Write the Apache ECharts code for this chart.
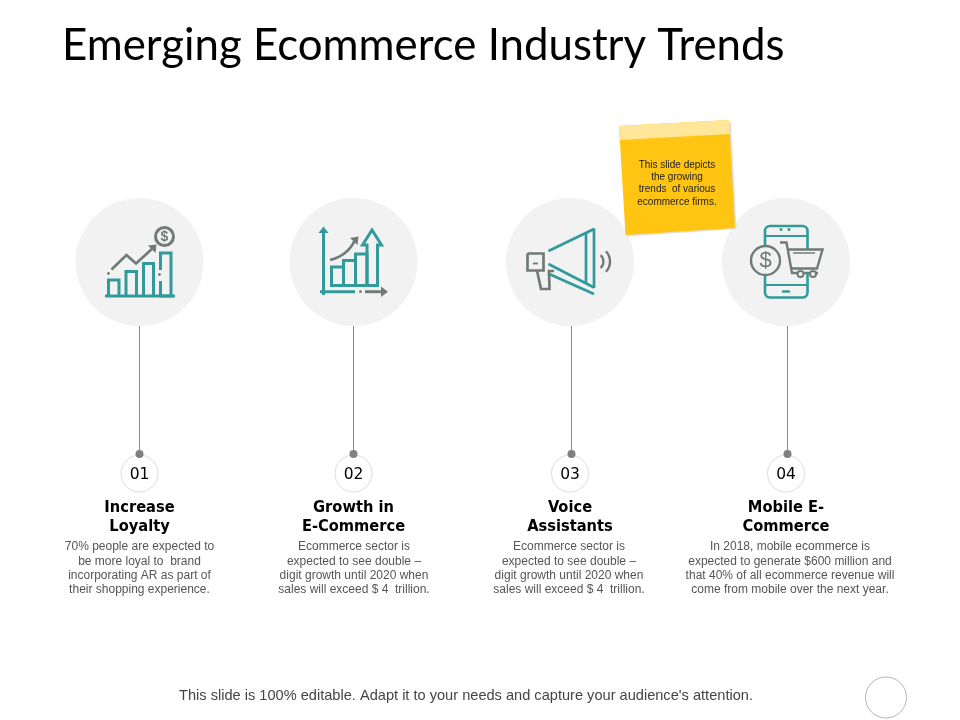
<!DOCTYPE html>
<html>
<head>
<meta charset="utf-8">
<style>html,body{margin:0;padding:0;background:#fff}#c{width:960px;height:720px}</style>
<script src="https://cdn.jsdelivr.net/npm/echarts@6/dist/echarts.min.js"></script>
</head>
<body>
<div id="c"></div>
<script>
var slideTitle = 'Emerging Ecommerce Industry Trends';
var stepNumbers = ['01', '02', '03', '04'];
var stepHeadings = ['Increase\nLoyalty', 'Growth in\nE-Commerce', 'Voice\nAssistants', 'Mobile E-\nCommerce'];
var stepBodies = [
  '70% people are expected to\nbe more loyal to  brand\nincorporating AR as part of\ntheir shopping experience.',
  'Ecommerce sector is\nexpected to see double \u2013\ndigit growth until 2020 when\nsales will exceed $ 4  trillion.',
  'Ecommerce sector is\nexpected to see double \u2013\ndigit growth until 2020 when\nsales will exceed $ 4  trillion.',
  'In 2018, mobile ecommerce is\nexpected to generate $600 million and\nthat 40% of all ecommerce revenue will\ncome from mobile over the next year.'
];
var noteText = 'This slide depicts\nthe growing\ntrends  of various\necommerce firms.';
var footerText = "This slide is 100% editable. Adapt it to your needs and capture your audience's attention.";
var stepCenters = [139.5, 353.5, 570, 786];
var stemCenters = [139.5, 353.5, 571.5, 787.5];
var bodyCenters = [139.5, 354, 569, 790];

var TEAL = '#329a9a', GRAY = '#6f7b76', HUB = '#f2f2f2';
var chart = echarts.init(document.getElementById('c'), null, {renderer: 'canvas'});

function column(y, xs) { return (xs || stepCenters).map(function (x) { return [x, y]; }); }
function stem(i) { return {type: 'line', silent: true, symbol: 'none', z: 3, animation: false,
  lineStyle: {color: '#8a8a8a', width: 1}, data: [[stemCenters[i], 326], [stemCenters[i], 454]]}; }

function poly(points, color, width, z) {
  return {type: 'polyline', z: z || 20, shape: {points: points}, style: {stroke: color, lineWidth: width, fill: null, lineJoin: 'miter'}};
}
function line(a, b, c, d, color, width, z) { return poly([[a, b], [c, d]], color, width, z); }
function rect(x, y, w, h, color, width, z) {
  return {type: 'rect', z: z || 20, shape: {x: x, y: y, width: w, height: h}, style: {stroke: color, lineWidth: width, fill: null}};
}
function dot(x, y, r, color, z) {
  return {type: 'circle', z: z || 20, shape: {cx: x, cy: y, r: r}, style: {fill: color}};
}
function ring(x, y, r, color, width, fill, z) {
  return {type: 'circle', z: z || 20, shape: {cx: x, cy: y, r: r}, style: {stroke: color, lineWidth: width, fill: fill}};
}
function tri(points, color, z) {
  return {type: 'polygon', z: z || 20, shape: {points: points}, style: {fill: color}};
}
function glyph(x, y, text, size, color, z, weight) {
  return {type: 'text', z: z || 21, x: x, y: y, style: {text: text, fill: color, font: (weight || 'normal') + ' ' + size + 'px "Liberation Sans"', align: 'center', verticalAlign: 'middle'}};
}

var T = 3, G = 2.7;
var icon1 = [
  line(105, 296, 175, 296, TEAL, T),
  poly([[108.5, 296], [108.5, 280], [119, 280], [119, 296]], TEAL, T),
  poly([[126, 296], [126, 271.5], [136.5, 271.5], [136.5, 296]], TEAL, T),
  poly([[143.5, 296], [143.5, 263.5], [153.5, 263.5], [153.5, 296]], TEAL, T),
  poly([[160.5, 270], [160.5, 253], [171, 253], [171, 296], [160.5, 296], [160.5, 281]], TEAL, T),
  dot(159.5, 274.5, 1.4, GRAY),
  dot(108.5, 273.5, 1.4, GRAY),
  poly([[111.5, 269.5], [126.5, 255], [136, 263.5], [153, 248]], GRAY, G),
  tri([[148, 245.5], [156.5, 244.5], [155.5, 253]], GRAY),
  ring(164.5, 236.5, 9, GRAY, 3, 'none'),
  glyph(164.5, 237, '$', 14, GRAY, 21, 'bold')
];
var icon2 = [
  line(323.5, 231, 323.5, 295, TEAL, T),
  tri([[318.5, 233], [323.5, 226.5], [328.5, 233]], TEAL),
  line(320, 291.7, 355, 291.7, TEAL, T),
  dot(360.5, 291.7, 1.4, GRAY),
  line(365, 291.7, 383, 291.7, GRAY, T),
  tri([[381, 286.5], [388, 291.7], [381, 297]], GRAY),
  rect(331.5, 267, 12, 18.5, TEAL, T),
  rect(343.5, 260.5, 12, 25, TEAL, T),
  rect(355.5, 254, 11.5, 31.5, TEAL, T),
  poly([[367, 285.5], [377.5, 285.5], [377.5, 245], [381.5, 245], [372, 230], [362.5, 245], [367, 245], [367, 285.5]], TEAL, T),
  {type: 'bezierCurve', z: 20, shape: {x1: 330, y1: 260, cpx1: 342, cpy1: 257, x2: 355, y2: 240, cpx2: 350, cpy2: 251},
   style: {stroke: GRAY, lineWidth: G, fill: null}},
  tri([[350, 238], [358.5, 236.5], [357.5, 245]], GRAY)
];
var icon3 = [
  line(548.5, 251, 594, 229, TEAL, 2.7),
  line(594, 228.5, 594, 288, TEAL, 2.7),
  line(586, 233, 586, 283.5, TEAL, 2.7),
  line(548.5, 264, 594, 287.5, TEAL, 2.7),
  line(548, 273.5, 594, 294, TEAL, 2.7),
  poly([[527.5, 253.5], [543.5, 253.5], [543.5, 270.5], [527.5, 270.5], [527.5, 253.5]], GRAY, G),
  poly([[537, 270.5], [541, 289], [549.5, 289], [549, 271], [554, 271]], GRAY, G),
  line(533, 263.5, 538, 263.5, GRAY, 1.8),
  {type: 'arc', z: 20, shape: {cx: 595, cy: 261.5, r: 8.5, startAngle: -0.85, endAngle: 0.85}, style: {stroke: GRAY, lineWidth: 2.4, fill: null}},
  {type: 'arc', z: 20, shape: {cx: 595, cy: 261.5, r: 15, startAngle: -0.75, endAngle: 0.75}, style: {stroke: GRAY, lineWidth: 2.4, fill: null}}
];
var icon4 = [
  {type: 'rect', z: 20, shape: {x: 765, y: 226, width: 42.5, height: 71.5, r: 5}, style: {stroke: TEAL, lineWidth: 2.6, fill: null}},
  line(765, 236, 807.5, 236, TEAL, 2.2),
  line(765, 285, 807.5, 285, TEAL, 2.2),
  line(782, 291.5, 790, 291.5, TEAL, 2.4),
  dot(781, 229.5, 1.5, TEAL), dot(789, 229.5, 1.5, TEAL),
  tri([[788, 249], [823, 249], [817, 272], [793, 276]], HUB, 21),
  ring(765.5, 260.5, 14.5, GRAY, 2.4, HUB, 22),
  glyph(765.5, 261, '$', 22, GRAY, 23),
  poly([[780, 242.5], [786.5, 242.5], [792, 273], [818, 273]], GRAY, 2.4, 23),
  poly([[788.5, 249.5], [822.5, 249.5], [817, 268.5], [791.5, 268.5]], GRAY, 2.4, 23),
  line(793, 253, 815, 253, GRAY, 1.5, 23),
  ring(800.5, 274, 3, GRAY, 2, HUB, 24),
  ring(813, 274, 3, GRAY, 2, HUB, 24)
];

var note = [
  {type: 'polygon', z: 40, shape: {points: [[621, 128], [731, 122], [736.5, 229], [627, 236.5]]}, style: {fill: '#e4dfd2'}},
  {type: 'polygon', z: 41, shape: {points: [[619, 126], [729, 120], [735, 228], [625.5, 235]]}, style: {fill: '#ffc512'}},
  {type: 'polygon', z: 42, shape: {points: [[619, 126], [729, 120], [729.8, 134], [620, 140]]}, style: {fill: '#ffe699'}},
  {type: 'text', z: 43, x: 677, y: 183.5, style: {text: noteText, fill: '#222', font: '10px "Liberation Sans"', lineHeight: 12.3, align: 'center', verticalAlign: 'middle'}}
];

var option = {
  animation: false,
  backgroundColor: '#fff',
  title: {text: slideTitle, left: 57, top: 19, textStyle: {fontFamily: 'Lato', fontWeight: 'normal', fontSize: 43.8, color: '#000'}},
  grid: {left: 0, right: 0, top: 0, bottom: 0},
  xAxis: {type: 'value', min: 0, max: 960, show: false},
  yAxis: {type: 'value', min: 0, max: 720, inverse: true, show: false},
  series: [
    {type: 'scatter', name: 'hubs', silent: true, symbolSize: 128, z: 1, itemStyle: {color: HUB, opacity: 1}, data: column(262)}
  ].concat([0, 1, 2, 3].map(stem)).concat([
    {type: 'scatter', name: 'stem dots', silent: true, symbolSize: 8, z: 5, itemStyle: {color: '#808080', opacity: 1},
     data: column(454, stemCenters)},
    {type: 'scatter', name: 'badges', silent: true, symbolSize: 37, z: 4,
     itemStyle: {color: '#fff', borderColor: '#dcdcdc', borderWidth: 1, opacity: 1},
     label: {show: true, position: 'inside', color: '#000', fontFamily: 'DejaVu Sans', fontSize: 15.5, offset: [0, 1],
       formatter: function (p) { return stepNumbers[p.dataIndex]; }},
     data: column(473.5)},
    {type: 'scatter', name: 'headings', silent: true, symbolSize: 0, z: 6, itemStyle: {opacity: 1},
     label: {show: true, position: 'inside', color: '#000', fontFamily: 'DejaVu Sans Condensed', fontWeight: 'bold', fontSize: 16.3, lineHeight: 19, align: 'center',
       formatter: function (p) { return stepHeadings[p.dataIndex]; }},
     data: column(517.5)},
    {type: 'scatter', name: 'bodies', silent: true, symbolSize: 0, z: 6, itemStyle: {opacity: 1},
     label: {show: true, position: 'inside', color: '#555', fontFamily: 'Liberation Sans', fontSize: 12, lineHeight: 14.4, align: 'center',
       formatter: function (p) { return stepBodies[p.dataIndex]; }},
     data: column(568.5, bodyCenters)}
  ]),
  graphic: {elements: [].concat(icon1, icon2, icon3, icon4, note, [
    {type: 'text', z: 10, x: 466, y: 696, style: {text: footerText, fill: '#444', font: '14.6px "Liberation Sans"', align: 'center', verticalAlign: 'middle'}},
    {type: 'circle', z: 10, shape: {cx: 886, cy: 697.5, r: 20.5}, style: {stroke: '#b5b5b5', lineWidth: 1, fill: '#fff'}}
  ])}
};
chart.setOption(option);
</script>
</body>
</html>
